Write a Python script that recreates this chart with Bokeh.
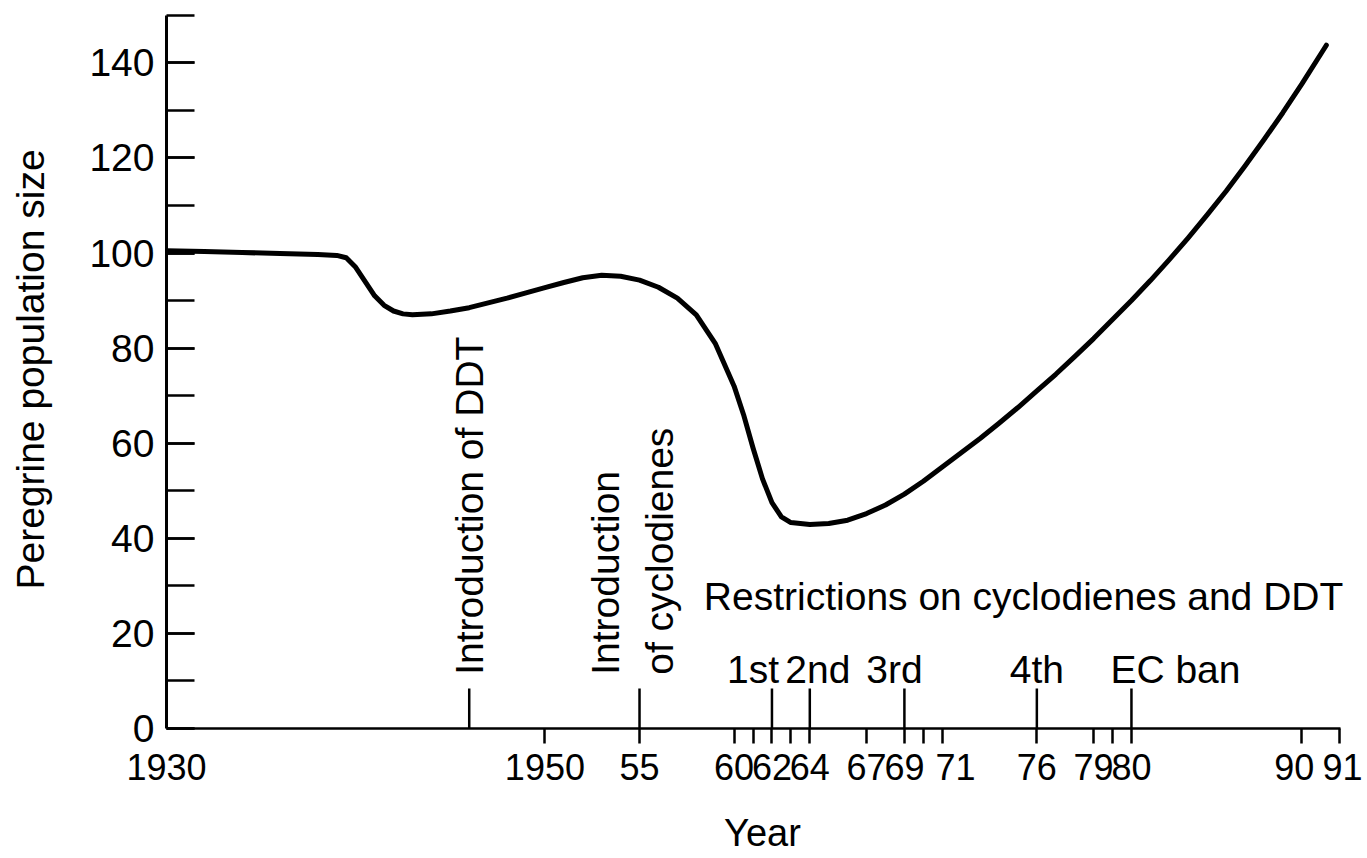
from math import pi
from bokeh.plotting import figure
from bokeh.models import FixedTicker, SingleIntervalTicker, Range1d, ColumnDataSource
from bokeh.core.properties import value
from bokeh.embed import file_html
from bokeh.resources import INLINE

# ---------------- data ----------------
years = [1930, 1932, 1934, 1936, 1938, 1939, 1939.5, 1940, 1940.5, 1941, 1941.5,
         1942, 1942.5, 1943, 1944, 1945, 1946, 1947, 1948, 1949, 1950, 1951,
         1952, 1953, 1954, 1955, 1956, 1957, 1958, 1959, 1960, 1960.5, 1961,
         1961.5, 1962, 1962.5, 1963, 1964, 1965, 1966, 1967, 1968, 1969, 1970,
         1971, 1972, 1973, 1974, 1975, 1976, 1977, 1978, 1979, 1980, 1981,
         1982, 1983, 1984, 1985, 1986, 1987, 1988, 1989, 1990, 1991, 1991.3]
population = [100.5, 100.3, 100.1, 99.9, 99.7, 99.5, 99.0, 97.0, 94.0, 91.0, 89.0,
              87.8, 87.2, 87.0, 87.2, 87.8, 88.5, 89.5, 90.5, 91.6, 92.7, 93.8,
              94.8, 95.3, 95.1, 94.3, 92.8, 90.5, 87.0, 81.0, 72.0, 66.0, 59.0,
              52.5, 47.5, 44.5, 43.3, 42.9, 43.1, 43.8, 45.2, 47.0, 49.3, 52.0,
              55.0, 58.0, 61.0, 64.2, 67.5, 71.0, 74.5, 78.2, 82.0, 86.0, 90.0,
              94.2, 98.6, 103.2, 108.0, 113.0, 118.3, 123.8, 129.5, 135.5, 141.8, 143.7]

event_years = [1946, 1955, 1962, 1964, 1969, 1976, 1981]
restriction_years = [1962, 1964, 1969, 1976, 1981]
restriction_labels = ["1st", "2nd", "3rd", "4th", "EC ban"]

label_ticks = [1930, 1950, 1955, 1960, 1962, 1964, 1967, 1969, 1971.7, 1976, 1979, 1981, 1989.6, 1992.4]
label_texts = ["1930", "1950", "55", "60", "62", "64", "67", "69", "71", "76", "79", "80", "90", "91"]
small_ticks = [1950, 1955, 1960, 1961, 1962, 1963, 1964, 1967, 1969, 1970, 1971,
               1976, 1979, 1980, 1981, 1990, 1992]

# ---------------- styling ----------------
FONT = "Liberation Sans"
LABEL_DX = [-19, 8, -10, 0, 44]

p = figure(width=1362, height=856,
           x_range=Range1d(1930, 1993.0), y_range=Range1d(0, 151),
           output_backend="svg", toolbar_location=None,
           min_border_left=166, min_border_right=4,
           min_border_top=10, min_border_bottom=125)
p.grid.visible = False
p.outline_line_color = None
p.background_fill_color = "white"
p.border_fill_color = "white"

xa = p.xaxis[0]
xa.ticker = FixedTicker(ticks=label_ticks, minor_ticks=small_ticks)
xa.major_label_overrides = {t: s for t, s in zip(label_ticks, label_texts)}
xa.major_tick_in = 0
xa.major_tick_out = 0
xa.minor_tick_in = 0
xa.minor_tick_out = 15
xa.minor_tick_line_width = 2.5
xa.minor_tick_line_color = "black"
xa.axis_line_width = 2.5
xa.axis_line_color = "black"
xa.bounds = (1930, 1992.05)
xa.major_label_text_font = FONT
xa.major_label_text_font_size = "36px"
xa.major_label_text_color = "black"
xa.major_label_standoff = 10
xa.axis_label = "Year"
xa.axis_label_text_font = FONT
xa.axis_label_text_font_size = "38px"
xa.axis_label_text_font_style = "normal"
xa.axis_label_text_color = "black"
xa.axis_label_standoff = 29

ya = p.yaxis[0]
ya.ticker = SingleIntervalTicker(interval=20, num_minor_ticks=2)
ya.major_tick_in = 28
ya.major_tick_out = 0
ya.minor_tick_in = 28
ya.minor_tick_out = 0
ya.major_tick_line_width = 2.5
ya.minor_tick_line_width = 2.5
ya.major_tick_line_color = "black"
ya.minor_tick_line_color = "black"
ya.axis_line_width = 3
ya.axis_line_color = "black"
ya.bounds = (0, 150)
ya.major_label_text_font = FONT
ya.major_label_text_font_size = "39px"
ya.major_label_text_color = "black"
ya.major_label_standoff = 12
ya.axis_label = "Peregrine population size"
ya.axis_label_text_font = FONT
ya.axis_label_text_font_size = "39px"
ya.axis_label_text_font_style = "normal"
ya.axis_label_text_color = "black"
ya.axis_label_standoff = 34

# population curve
p.line(years, population, line_width=5, line_color="black",
       line_join="round", line_cap="round")

# event markers rising from the time axis
p.segment(x0=event_years, y0=[0] * len(event_years),
          x1=event_years, y1=[8.4] * len(event_years),
          line_width=2.5, line_color="black")

# rotated annotations
p.text(x=[event_years[0]], y=[11.3], text=["Introduction of DDT"], angle=pi / 2,
       text_align="left", text_baseline="middle",
       text_font=value(FONT), text_font_size="39px", text_color="black")
p.text(x=[event_years[1]], y=[11.3], text=["Introduction\nof cyclodienes"], angle=pi / 2,
       x_offset=-7, text_align="left", text_baseline="middle", text_line_height=1.25,
       text_font=value(FONT), text_font_size="39px", text_color="black")

p.text(x=[1958.4], y=[27.7], text=["Restrictions on cyclodienes and DDT"],
       text_align="left", text_baseline="alphabetic",
       text_font=value(FONT), text_font_size="39px", text_color="black")

src = ColumnDataSource(dict(x=restriction_years, y=[12.4] * len(restriction_years),
                            t=restriction_labels, dx=LABEL_DX))
p.text(x="x", y="y", text="t", x_offset="dx", source=src,
       text_align="center", text_baseline="alphabetic",
       text_font=value(FONT), text_font_size="39px", text_color="black")

open("out.html", "w").write(file_html(p, INLINE))
